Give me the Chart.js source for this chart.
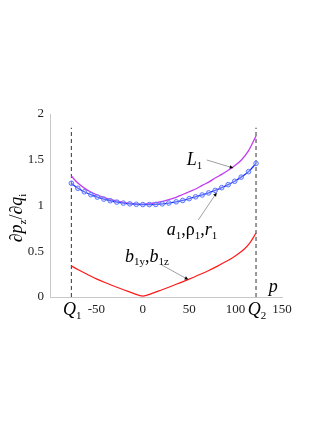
<!DOCTYPE html>
<html>
<head>
<meta charset="utf-8">
<script src="https://cdn.jsdelivr.net/npm/chart.js@4.4.1/dist/chart.umd.min.js"></script>
<style>
  html, body { margin: 0; padding: 0; background: #fff; }
</style>
</head>
<body>
<canvas id="chart" width="327" height="423"></canvas>
<script>
// boundary positions (dashed lines) and axis ticks
const q1 = -77
const q2 = 122
const dashTop = 1.85
const xTicks = [-50, 0, 50, 100, 150]

// L1 and a1,rho1,r1 curves share the same p samples
const curveX = [-77, -70, -63, -56, -49, -42, -35, -28, -21, -14, -7, 0, 7, 14, 21, 28, 36, 43, 50, 57, 64, 71, 78, 85, 92, 99, 106, 114, 122]
const aRhoR = [1.243, 1.188, 1.15, 1.118, 1.092, 1.07, 1.052, 1.037, 1.026, 1.018, 1.013, 1.01, 1.01, 1.012, 1.018, 1.027, 1.04, 1.055, 1.075, 1.095, 1.115, 1.138, 1.165, 1.195, 1.228, 1.265, 1.31, 1.37, 1.46]
const L1 = [1.322, 1.245, 1.19, 1.147, 1.115, 1.088, 1.067, 1.05, 1.035, 1.025, 1.018, 1.015, 1.02, 1.03, 1.045, 1.065, 1.09, 1.12, 1.15, 1.18, 1.22, 1.255, 1.3, 1.34, 1.385, 1.435, 1.495, 1.6, 1.76]

// b1y,b1z curve
const bX = [-77, -70, -60, -50, -40, -30, -20, -10, 0, 10, 20, 30, 40, 50, 60, 70, 80, 90, 100, 110, 116, 122]
const bY = [0.34, 0.3, 0.248, 0.198, 0.155, 0.115, 0.077, 0.04, 0.01, 0.04, 0.077, 0.115, 0.155, 0.195, 0.24, 0.285, 0.335, 0.39, 0.45, 0.53, 0.6, 0.7]

const serif = '"Liberation Serif", "DejaVu Serif", serif'

function toPoints(xs, ys) {
  return xs.map((x, i) => ({ x: x, y: ys[i] }))
}

// draws text pieces: "i" italic, "r" roman, "s" subscript; returns width
function drawMath(ctx, parts, x, y, size, dry) {
  let cx = x
  parts.forEach(([t, k]) => {
    if (k === "s") {
      ctx.font = `${Math.round(size * 0.62)}px ${serif}`
      if (!dry) ctx.fillText(t, cx, y + size * 0.2)
    } else {
      ctx.font = `${k === "i" ? "italic " : ""}${size}px ${serif}`
      if (!dry) ctx.fillText(t, cx, y)
    }
    cx += ctx.measureText(t).width
  })
  return cx - x
}

function arrow(ctx, x1, y1, x2, y2) {
  ctx.strokeStyle = "#888"
  ctx.lineWidth = 0.8
  ctx.beginPath()
  ctx.moveTo(x1, y1)
  ctx.lineTo(x2, y2)
  ctx.stroke()
  const a = Math.atan2(y2 - y1, x2 - x1)
  ctx.fillStyle = "#000"
  ctx.beginPath()
  ctx.moveTo(x2, y2)
  ctx.lineTo(x2 - 4 * Math.cos(a - 0.45), y2 - 4 * Math.sin(a - 0.45))
  ctx.lineTo(x2 - 4 * Math.cos(a + 0.45), y2 - 4 * Math.sin(a + 0.45))
  ctx.closePath()
  ctx.fill()
}

const labelsPlugin = {
  id: "labels",
  afterDraw(chart) {
    const ctx = chart.ctx
    const xs = chart.scales.x
    const ys = chart.scales.y
    const px = v => xs.getPixelForValue(v)
    const py = v => ys.getPixelForValue(v)
    ctx.save()
    ctx.textBaseline = "alphabetic"
    ctx.textAlign = "left"

    // y axis title
    const title = [["\u2202", "r"], ["p", "i"], ["z", "s"], ["/\u2202", "r"], ["q", "i"], ["i", "s"]]
    ctx.save()
    ctx.translate(22, 218)
    ctx.rotate(-Math.PI / 2)
    const tw = drawMath(ctx, title, 0, 0, 18, true)
    ctx.fillStyle = "#000"
    drawMath(ctx, title, -tw / 2, 0, 18)
    ctx.restore()

    // boundary labels under the axis
    ctx.fillStyle = "#000"
    const qParts1 = [["Q", "i"], ["1", "s"]]
    const qParts2 = [["Q", "i"], ["2", "s"]]
    const qw = drawMath(ctx, qParts1, 0, 0, 18, true)
    drawMath(ctx, qParts1, px(q1) - qw / 2 + 1, py(0) + 18, 18)
    drawMath(ctx, qParts2, px(q2) - qw / 2 + 1, py(0) + 18, 18)

    // axis name
    drawMath(ctx, [["p", "i"]], px(140) - 4, py(0.05), 18)

    // curve annotations
    ctx.fillStyle = "#000"
    drawMath(ctx, [["L", "i"], ["1", "s"]], px(47.3), py(1.443), 18)
    arrow(ctx, px(69), py(1.497), px(97.5), py(1.41))

    drawMath(ctx, [["a", "i"], ["1", "s"], [",\u03c1", "r"], ["1", "s"], [",", "r"], ["r", "i"], ["1", "s"]], px(25.8), py(0.678), 18)
    ctx.fillStyle = "#000"
    arrow(ctx, px(59.8), py(0.842), px(79.6), py(1.14))

    ctx.fillStyle = "#000"
    drawMath(ctx, [["b", "i"], ["1y", "s"], [",", "r"], ["b", "i"], ["1z", "s"]], px(-19.2), py(0.386), 18)
    arrow(ctx, px(20.4), py(0.35), px(49), py(0.19))
    ctx.restore()
  }
}

const ctx = document.getElementById("chart").getContext("2d")
const chart = new Chart(ctx, {
  type: "line",
  data: {
    datasets: [
      {
        label: "a1,rho1,r1",
        data: toPoints(curveX, aRhoR),
        borderColor: "#1f2bff",
        borderWidth: 1.3,
        pointRadius: 2.3,
        pointBorderWidth: 1,
        pointBorderColor: "#5a78ff",
        pointBackgroundColor: "rgba(190, 200, 255, 0.4)",
        cubicInterpolationMode: "monotone",
        order: 1,
      },
      {
        label: "L1",
        data: toPoints(curveX, L1),
        borderColor: "#c23cf0",
        borderWidth: 1.3,
        pointRadius: 0,
        cubicInterpolationMode: "monotone",
        order: 2,
      },
      {
        label: "b1y,b1z",
        data: toPoints(bX, bY),
        borderColor: "#ff1a1a",
        borderWidth: 1.2,
        pointRadius: 0,
        cubicInterpolationMode: "monotone",
        order: 3,
      },
      {
        label: "Q1",
        data: [{ x: q1, y: 0 }, { x: q1, y: dashTop }],
        borderColor: "#333",
        borderWidth: 1,
        borderDash: [4, 3],
        pointRadius: 0,
        order: 4,
      },
      {
        label: "Q2",
        data: [{ x: q2, y: 0 }, { x: q2, y: dashTop }],
        borderColor: "#333",
        borderWidth: 1,
        borderDash: [4, 3],
        pointRadius: 0,
        order: 4,
      },
    ],
  },
  options: {
    responsive: false,
    animation: false,
    layout: { padding: { top: 114, right: 45, bottom: 96, left: 0 } },
    plugins: {
      legend: { display: false },
      tooltip: { enabled: false },
    },
    scales: {
      x: {
        type: "linear",
        min: -100,
        max: 150,
        grid: { display: false, drawTicks: false },
        border: { display: true, color: "#c8c8c8" },
        afterBuildTicks: s => { s.ticks = xTicks.map(v => ({ value: v })) },
        afterFit: s => { s.height = 30; s.paddingLeft = 0; s.paddingRight = 0 },
        ticks: {
          autoSkip: false,
          maxRotation: 0,
          padding: 5,
          color: "#222",
          font: { family: serif, size: 13 },
        },
      },
      y: {
        min: 0,
        max: 2,
        grid: { display: false, drawTicks: false },
        border: { display: true, color: "#c8c8c8" },
        afterFit: s => { s.width = 50; s.paddingTop = 0; s.paddingBottom = 0 },
        ticks: {
          stepSize: 0.5,
          padding: 6,
          color: "#222",
          font: { family: serif, size: 13 },
          callback: v => String(v),
        },
      },
    },
  },
  plugins: [labelsPlugin],
})
</script>
</body>
</html>
